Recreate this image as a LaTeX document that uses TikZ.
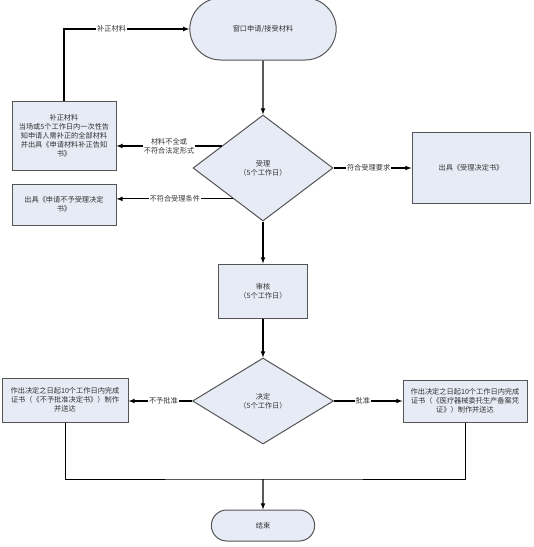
\documentclass[tikz,border=0pt]{standalone}
\usepackage{fontspec}
\usepackage{xcolor}
\usepackage{tikz}
\usetikzlibrary{shapes,arrows,positioning,calc}
\newfontfamily\cjk{Noto Sans CJK SC}
\definecolor{boxfill}{HTML}{E7EBF5}
\definecolor{boxline}{HTML}{555555}

\begin{document}
\begin{tikzpicture}[x=1pt, y=-1pt,
    box/.style={rectangle, draw=boxline, line width=1pt, fill=boxfill, align=center, inner sep=1pt, font=\cjk\fontsize{7.2}{9}\selectfont, text=black!80},
    term/.style={rounded rectangle, draw=boxline, line width=1pt, fill=boxfill, align=center, font=\cjk\fontsize{7.2}{9}\selectfont, text=black!80},
    choice/.style={diamond, draw=boxline, line width=1pt, fill=boxfill, align=center, inner sep=0pt, font=\cjk\fontsize{7.2}{9}\selectfont, text=black!80},
    lbl/.style={fill=white, inner sep=1pt, align=center, font=\cjk\fontsize{7.2}{9}\selectfont, text=black!80},
    arrow/.style={-latex, line width=1.1pt}
]
\useasboundingbox (0,0) rectangle (534,547);

% Start terminal
\node[term, minimum width=153pt, minimum height=62pt] (start) at (263,29) {窗口申请/接受材料};

% Acceptance decision
\node[choice, minimum width=140pt, minimum height=106pt] (accept) at (263,168) {受理\\（5个工作日）};

% Left boxes
\node[box, minimum width=104pt, minimum height=69pt] (supply) at (64,135.5) {补正材料\\当场或5个工作日内一次性告\\知申请人需补正的全部材料\\并出具《申请材料补正告知\\书》};
\node[box, minimum width=104pt, minimum height=41pt] (refuse) at (64,204.5) {出具《申请不予受理决定\\书》};

% Right box
\node[box, minimum width=118pt, minimum height=71pt] (notice) at (471,167.5) {出具《受理决定书》};

% Review
\node[box, minimum width=89pt, minimum height=54pt] (review) at (263,291) {审核\\（5个工作日）};

% Final decision
\node[choice, minimum width=141pt, minimum height=86pt] (decide) at (263,401) {决定\\（5个工作日）};
\node[box, minimum width=126pt, minimum height=44pt] (deny) at (65,400) {作出决定之日起10个工作日内完成\\证书（《不予批准决定书》）制作\\并送达};
\node[box, minimum width=124pt, minimum height=42pt] (grant) at (465,401) {作出决定之日起10个工作日内完成\\证书（《医疗器械委托生产备案凭\\证》）制作并送达};

% End terminal
\node[term, minimum width=110pt, minimum height=31pt] (finish) at (263,525.5) {结束};
\coordinate (join) at (263,479);

% Main flow
\draw[arrow] (start) -- (accept);
\draw[arrow] (accept) -- (review);
\draw[arrow] (review) -- (decide);
\draw[arrow] (join) -- (finish);

% Side branches
\draw[arrow] (accept.152) -- node[lbl] {材料不全或\\不符合法定形式} (accept.152 -| supply.east);
\draw[arrow] (accept.226) -- node[lbl] {不符合受理条件} (accept.226 -| refuse.east);
\draw[arrow] (accept.east) -- node[lbl, pos=0.45] {符合受理要求} (notice.west |- accept.east);
\draw[arrow] (supply.north) |- node[lbl, pos=0.69] {补正材料} (start.west);
\draw[arrow] (decide.west) -- node[lbl, pos=0.45] {不予批准} (deny.east |- decide.west);
\draw[arrow] (decide.east) -- node[lbl, pos=0.42] {批准} (grant.west);
\draw[line width=1pt] (deny.south) |- (join) -| (grant.south);

\end{tikzpicture}
\end{document}
